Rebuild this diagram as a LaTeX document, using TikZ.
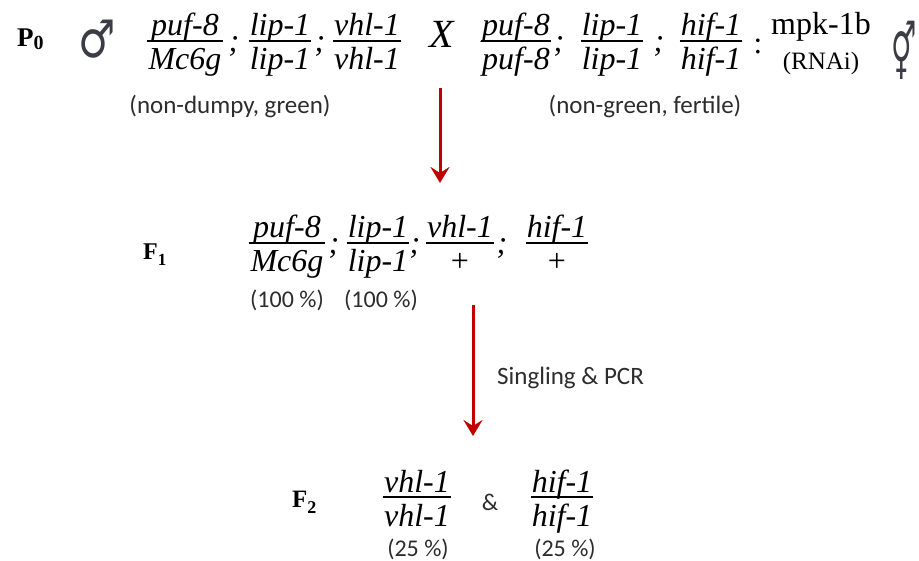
\documentclass[tikz,border=0pt]{standalone}
\usepackage{fontspec}
\setmainfont{Liberation Serif}
\newfontfamily\labfont{Carlito}
\newfontfamily\symfont{DejaVu Sans}
\usetikzlibrary{calc,arrows.meta}
\definecolor{arrowred}{RGB}{192,0,0}
\definecolor{labgray}{RGB}{45,45,45}
\definecolor{symgray}{RGB}{60,60,70}
\tikzset{
  fracnum/.style={inner sep=0pt, anchor=base, font=\fontsize{32}{37}\selectfont\itshape},
  fracden/.style={fracnum},
  fracbar/.style={line width=1.5pt},
  semi/.style={inner sep=0pt, anchor=base, font=\fontsize{32}{36}\selectfont\itshape},
  lab/.style={inner sep=0pt, text=labgray, font=\labfont\fontsize{25}{30}\selectfont},
  pct/.style={inner sep=0pt, text=labgray, font=\labfont\fontsize{24}{28}\selectfont},
  gen/.style={inner sep=0pt, anchor=base west},
  sym/.style={inner sep=0pt, text=symgray},
  flow/.style={draw=arrowred, line width=3pt, -{Stealth[length=16pt,width=19pt,inset=6pt]}},
}
\newcommand\stackfrac[4]{%
  \coordinate (#1) at #2;
  \node[fracnum] (#1n) at ($(#1)+(0,-5)$) {#3};
  \node[fracden] (#1d) at ($(#1)+(0,29)$) {#4};
  \path let \p1=(#1n.west), \p2=(#1d.west), \p3=(#1n.east), \p4=(#1d.east), \p5=(#1) in
    coordinate (#1L) at ({min(\x1,\x2)-1pt},\y5)
    coordinate (#1R) at ({max(\x3,\x4)+1pt},\y5);
  \draw[fracbar] (#1L) -- (#1R);
}
\begin{document}
\begin{tikzpicture}[x=1pt,y=-1pt]
\useasboundingbox[fill=white] (0,0) rectangle (919,561);
% ---- P0 row
\node[gen, font=\bfseries\fontsize{27}{30}\selectfont] (P0) at (17,47) {P\raisebox{-3pt}{\fontsize{20}{20}\selectfont 0}};
\node[sym, font=\symfont\fontsize{52}{56}\selectfont] (male) at (97,39) {\scalebox{0.8}[1]{♂}};
\stackfrac{pa}{(185,41)}{puf-8}{Mc6g}
\node[semi] (pas) at (234,52) {;};
\stackfrac{pb}{(280,41)}{lip-1}{lip-1}
\node[semi] (pbs) at (320,52) {;};
\stackfrac{pc}{(367,41)}{vhl-1}{vhl-1}
\node[inner sep=0pt, font=\fontsize{40}{44}\selectfont\itshape] (cross) at (442,34) {X};
\stackfrac{pd}{(516,41)}{puf-8}{puf-8}
\node[semi] (pds) at (559,52) {;};
\stackfrac{pe}{(612,41)}{lip-1}{lip-1}
\node[semi] (pes) at (659,52) {;};
\stackfrac{pf}{(711,41)}{hif-1}{hif-1}
\node[inner sep=0pt, font=\fontsize{31}{36}\selectfont] (colon) at (758,46) {:};
\node[inner sep=0pt, anchor=base, font=\fontsize{32}{36}\selectfont] (mpk) at (821,35) {mpk-1b};
\node[inner sep=0pt, anchor=base, font=\fontsize{25}{30}\selectfont] (rnai) at (821,70) {(RNAi)};
\node[sym, font=\symfont\fontsize{56}{60}\selectfont] (herm) at (904,50) {\scalebox{0.5}[1]{⚥}};
\node[lab] (lab1) at (230,107) {(non-dumpy, green)};
\node[lab] (lab2) at (645,107) {(non-green, fertile)};
% ---- arrow 1
\coordinate (a1s) at (440,88);
\coordinate (a1e) at (440,183);
\draw[flow] (a1s) -- (a1e);
% ---- F1 row
\node[gen, font=\bfseries\fontsize{24}{26}\selectfont] (F1) at (143,260) {F\raisebox{-6pt}{\fontsize{17}{17}\selectfont 1}};
\stackfrac{fa}{(287,243)}{puf-8}{Mc6g}
\node[semi] (fas) at (334,254) {;};
\stackfrac{fb}{(378,243)}{lip-1}{lip-1}
\node[semi] (fbs) at (415,254) {;};
\stackfrac{fc}{(460,243)}{vhl-1}{\upshape +}
\node[semi] (fcs) at (502,254) {;};
\stackfrac{fd}{(557,243)}{hif-1}{\upshape +}
\node[pct] (pct1) at (287,300) {(100 \%)};
\node[pct] (pct2) at (381,300) {(100 \%)};
% ---- arrow 2
\coordinate (a2s) at (473,305);
\coordinate (a2e) at (473,436);
\draw[flow] (a2s) -- (a2e);
\node[lab, anchor=west] (sing) at (497,378) {Singling \& PCR};
% ---- F2 row
\node[gen, font=\bfseries\fontsize{25}{28}\selectfont] (F2) at (292,507) {F\raisebox{-6pt}{\fontsize{18}{18}\selectfont 2}};
\stackfrac{ha}{(417,497)}{vhl-1}{vhl-1}
\node[pct] (amp) at (490,502) {\&};
\stackfrac{hb}{(562,497)}{hif-1}{hif-1}
\node[pct] (pct3) at (418,549) {(25 \%)};
\node[pct] (pct4) at (565,549) {(25 \%)};
\end{tikzpicture}
\end{document}
